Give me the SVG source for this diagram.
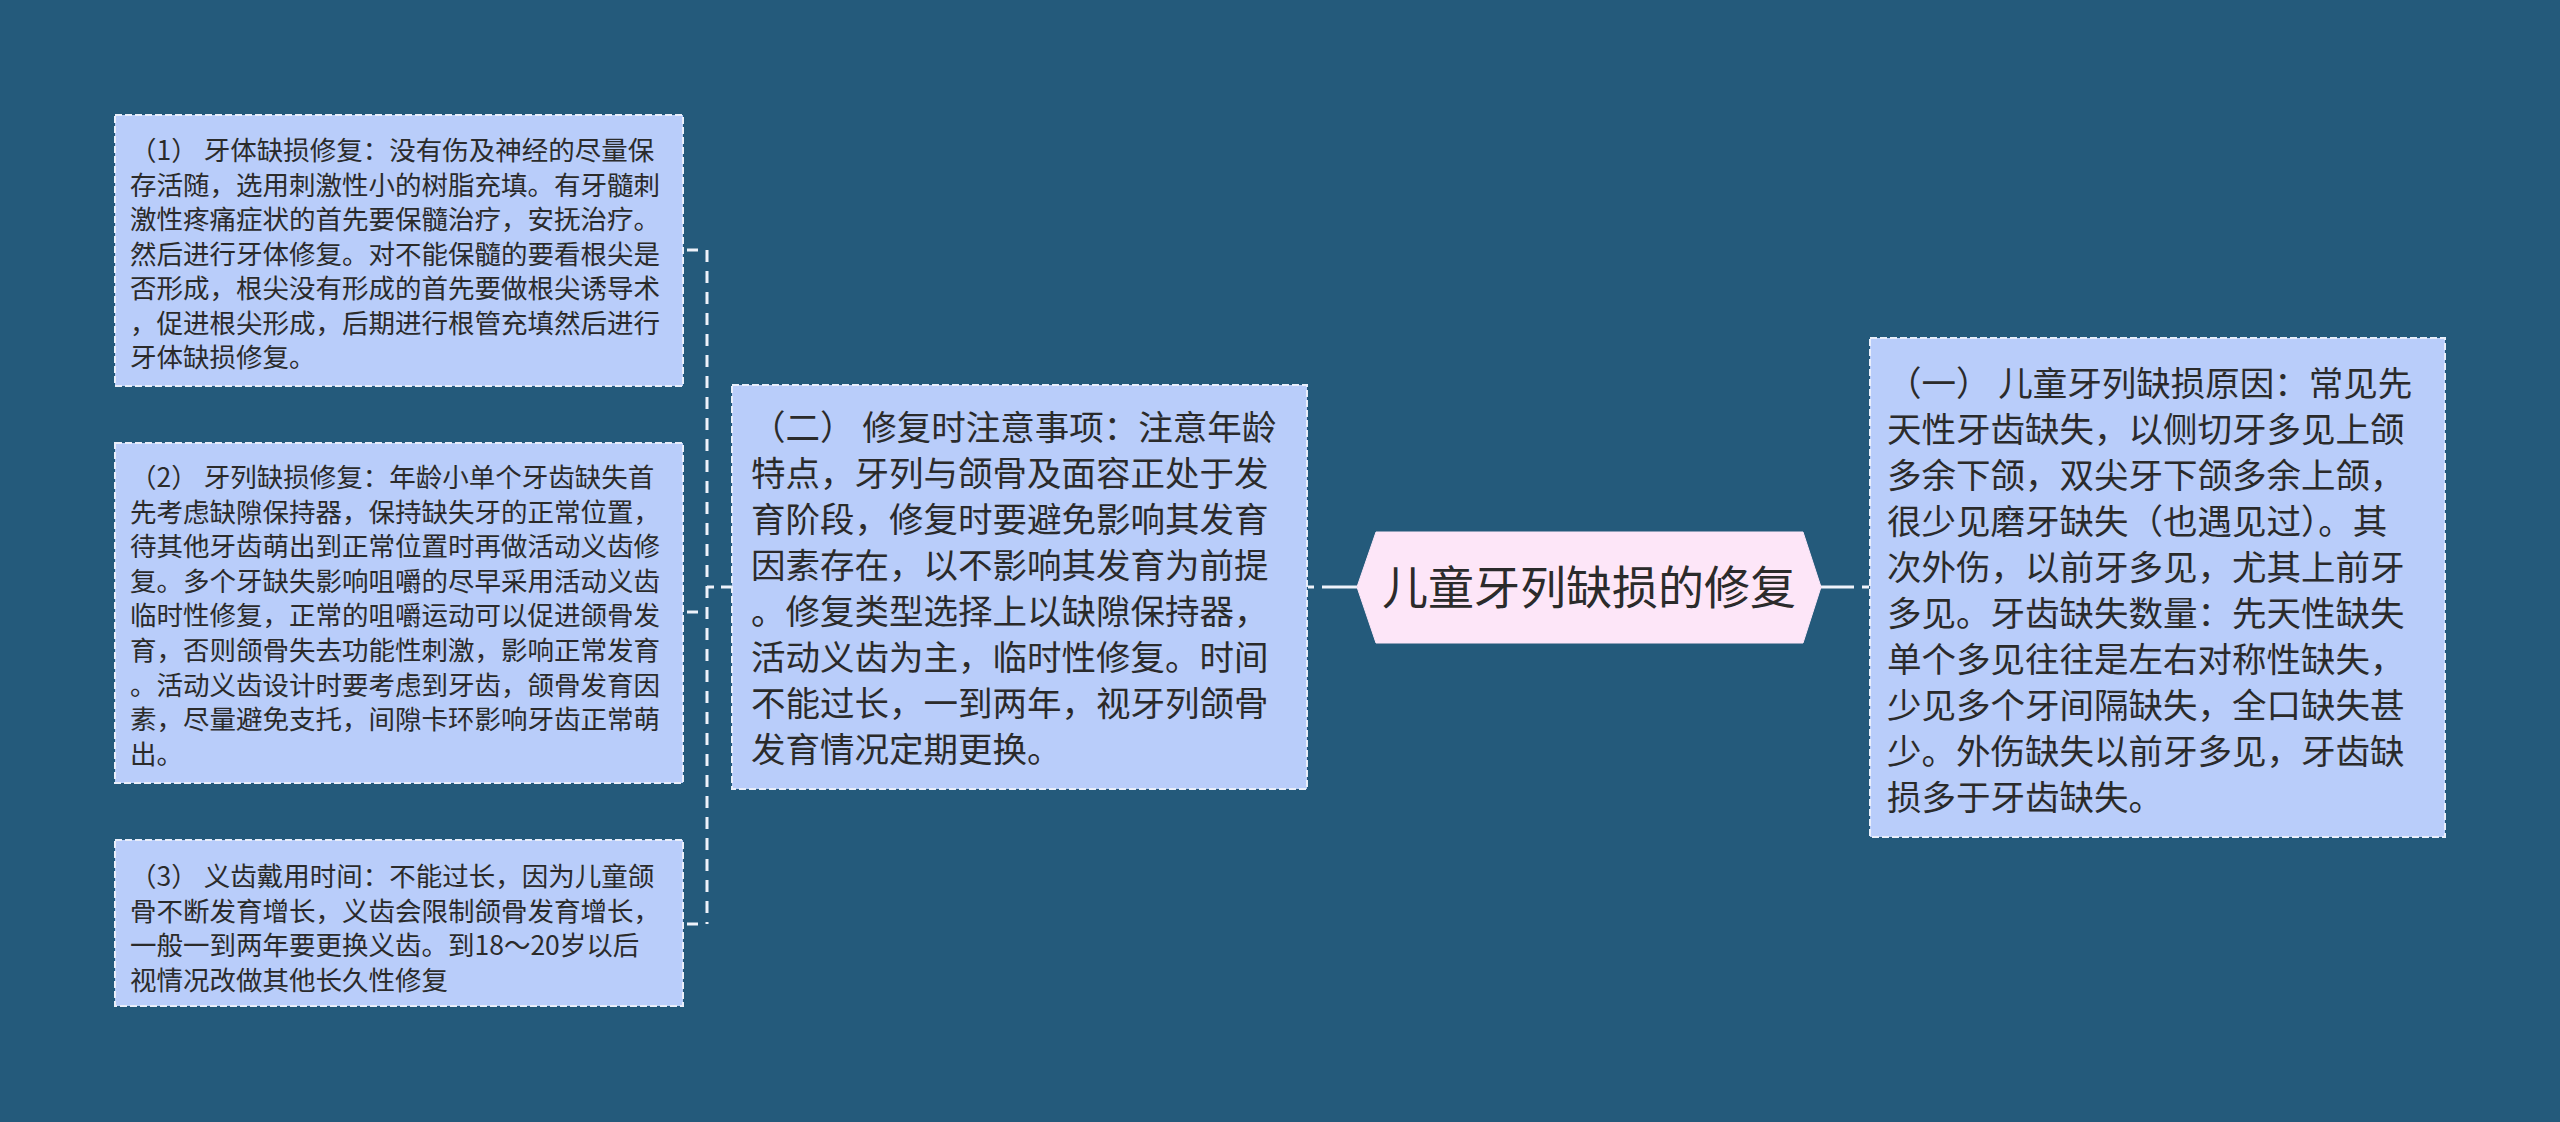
<svg xmlns="http://www.w3.org/2000/svg" width="2560" height="1122" viewBox="0 0 2560 1122">
<style>
.bg{fill:#245a7b}
.box{fill:#b9cdfa;stroke:#e9eefa;stroke-width:2;stroke-dasharray:7 3}
.hex{fill:#fde6f8;stroke:#fde6f8;stroke-width:1}
.t{font-family:"Microsoft YaHei","Noto Sans CJK SC","Noto Sans",sans-serif;fill:#2b2b2b}
.s{font-size:26.5px}
.m{font-size:34.5px}
.c{font-size:46px}
.ln{stroke:#eef2fa;stroke-width:3;fill:none}
.dl{stroke:#eef2fa;stroke-width:3;fill:none;stroke-dasharray:12 9}
</style>
<rect class="bg" x="0" y="0" width="2560" height="1122"/>
<g id="connectors">
<line class="dl" x1="707" y1="250" x2="707" y2="924"/>
<line class="ln" x1="687" y1="250" x2="698" y2="250"/>
<line class="ln" x1="687" y1="612" x2="698" y2="612"/>
<line class="ln" x1="687" y1="924" x2="698" y2="924"/>
<line class="ln" x1="707" y1="587" x2="714" y2="587"/>
<line class="ln" x1="721" y1="587" x2="732" y2="587"/>
<line class="ln" x1="1308" y1="587" x2="1314" y2="587"/>
<line class="ln" x1="1322" y1="587" x2="1357" y2="587"/>
<line class="ln" x1="1821" y1="587" x2="1854" y2="587"/>
<line class="ln" x1="1862" y1="587" x2="1869" y2="587"/>
</g>
<g id="center">
<polygon class="hex" points="1357,587 1376,532 1803,532 1821,587 1803,643 1376,643"/>
<text class="t c" x="1589" y="604" text-anchor="middle">儿童牙列缺损的修复</text>
</g>
<g id="n1">
<rect class="box" x="115" y="115" width="568" height="271"/>
<text class="t s">
<tspan x="130" y="160">（1） 牙体缺损修复：没有伤及神经的尽量保</tspan>
<tspan x="130" y="194.5">存活随，选用刺激性小的树脂充填。有牙髓刺</tspan>
<tspan x="130" y="229">激性疼痛症状的首先要保髓治疗，安抚治疗。</tspan>
<tspan x="130" y="263.5">然后进行牙体修复。对不能保髓的要看根尖是</tspan>
<tspan x="130" y="298">否形成，根尖没有形成的首先要做根尖诱导术</tspan>
<tspan x="130" y="332.5">，促进根尖形成，后期进行根管充填然后进行</tspan>
<tspan x="130" y="367">牙体缺损修复。</tspan>
</text>
</g>
<g id="n2">
<rect class="box" x="115" y="443" width="568" height="340"/>
<text class="t s">
<tspan x="130" y="487">（2） 牙列缺损修复：年龄小单个牙齿缺失首</tspan>
<tspan x="130" y="521.6">先考虑缺隙保持器，保持缺失牙的正常位置，</tspan>
<tspan x="130" y="556.2">待其他牙齿萌出到正常位置时再做活动义齿修</tspan>
<tspan x="130" y="590.8">复。多个牙缺失影响咀嚼的尽早采用活动义齿</tspan>
<tspan x="130" y="625.4">临时性修复，正常的咀嚼运动可以促进颌骨发</tspan>
<tspan x="130" y="660">育，否则颌骨失去功能性刺激，影响正常发育</tspan>
<tspan x="130" y="694.6">。活动义齿设计时要考虑到牙齿，颌骨发育因</tspan>
<tspan x="130" y="729.2">素，尽量避免支托，间隙卡环影响牙齿正常萌</tspan>
<tspan x="130" y="763.8">出。</tspan>
</text>
</g>
<g id="n3">
<rect class="box" x="115" y="840" width="568" height="166"/>
<text class="t s">
<tspan x="130" y="886">（3） 义齿戴用时间：不能过长，因为儿童颌</tspan>
<tspan x="130" y="920.5">骨不断发育增长，义齿会限制颌骨发育增长，</tspan>
<tspan x="130" y="955">一般一到两年要更换义齿。到18～20岁以后</tspan>
<tspan x="130" y="989.5">视情况改做其他长久性修复</tspan>
</text>
</g>
<g id="n4">
<rect class="box" x="732" y="385" width="575" height="404"/>
<text class="t m">
<tspan x="751" y="440">（二） 修复时注意事项：注意年龄</tspan>
<tspan x="751" y="486">特点，牙列与颌骨及面容正处于发</tspan>
<tspan x="751" y="532">育阶段，修复时要避免影响其发育</tspan>
<tspan x="751" y="578">因素存在，以不影响其发育为前提</tspan>
<tspan x="751" y="624">。修复类型选择上以缺隙保持器，</tspan>
<tspan x="751" y="670">活动义齿为主，临时性修复。时间</tspan>
<tspan x="751" y="716">不能过长，一到两年，视牙列颌骨</tspan>
<tspan x="751" y="762">发育情况定期更换。</tspan>
</text>
</g>
<g id="n5">
<rect class="box" x="1870" y="338" width="575" height="499"/>
<text class="t m">
<tspan x="1887" y="396">（一） 儿童牙列缺损原因：常见先</tspan>
<tspan x="1887" y="442">天性牙齿缺失，以侧切牙多见上颌</tspan>
<tspan x="1887" y="488">多余下颌，双尖牙下颌多余上颌，</tspan>
<tspan x="1887" y="534">很少见磨牙缺失（也遇见过）。其</tspan>
<tspan x="1887" y="580">次外伤，以前牙多见，尤其上前牙</tspan>
<tspan x="1887" y="626">多见。牙齿缺失数量：先天性缺失</tspan>
<tspan x="1887" y="672">单个多见往往是左右对称性缺失，</tspan>
<tspan x="1887" y="718">少见多个牙间隔缺失，全口缺失甚</tspan>
<tspan x="1887" y="764">少。外伤缺失以前牙多见，牙齿缺</tspan>
<tspan x="1887" y="810">损多于牙齿缺失。</tspan>
</text>
</g>
</svg>
